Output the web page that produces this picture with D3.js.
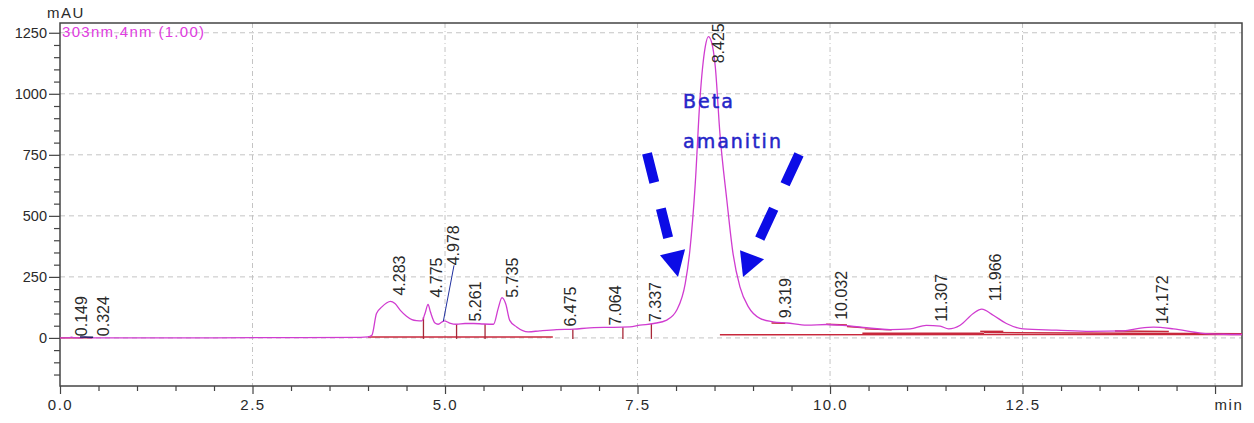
<!DOCTYPE html>
<html><head><meta charset="utf-8">
<script src="https://cdn.jsdelivr.net/npm/d3@7"></script>
<style>html,body{margin:0;padding:0;background:#fff;} svg{display:block;}</style>
</head><body>
<svg id="c" width="1254" height="423"></svg>
<script>
// ---------- DATA ----------
const times = [0.0,0.10,0.15,0.20,0.30,0.324,0.40,1.0,2.0,3.0,3.9,4.00,4.05,4.11,4.18,4.24,4.29,4.35,4.42,4.50,4.57,4.63,4.70,4.74,4.78,4.81,4.87,4.91,4.99,5.06,5.15,5.26,5.37,5.50,5.63,5.69,5.74,5.79,5.84,5.93,6.08,6.23,6.45,6.67,6.88,7.06,7.19,7.40,7.53,7.71,7.88,8.01,8.12,8.18,8.25,8.31,8.38,8.42,8.46,8.51,8.57,8.66,8.74,8.83,8.94,9.09,9.26,9.44,9.70,9.96,10.13,10.43,10.78,11.04,11.25,11.43,11.54,11.69,11.86,11.97,12.12,12.29,12.51,12.94,13.38,13.81,14.03,14.20,14.46,14.81,15.11,15.35];
const signal = [0,0,3,0,1,3,0,0,0.5,1,2,4,11,100,127,143,150,141,113,89,75,71,70,100,137,107,61,56,70,61,56,59,59,57,56,120,165,138,72,45,25,29,34,36,41,43,43,45,52,59,73,114,223,359,633,974,1193,1234,1213,1111,838,564,346,209,127,80,66,61,52,55,52,43,34,37,51,48,37,52,100,118,93,59,37,32,27,29,40,44,37,20,15,14];

const peakTimes  = [0.149,0.324,4.283,4.775,4.978,5.261,5.735,6.475,7.064,7.337,8.425,9.319,10.032,11.307,11.966,14.172];
const peakLabels = ["0.149","0.324","4.283","4.775","4.978","5.261","5.735","6.475","7.064","7.337","8.425","9.319","10.032","11.307","11.966","14.172"];

const dropTimes = [4.72,5.15,5.52,6.66,7.31,7.68];
// integration baselines [t1, v1, t2, v2]
const baselineSegs = [[0.0,0,0.42,0],[4.0,4,6.40,4],[8.57,13,15.35,14],[10.42,19,12.0,19],[12.0,22,15.35,17],[9.24,61,9.42,60],[9.95,56,10.22,53],[10.22,47,10.45,41],[10.45,37,10.80,33],[11.95,27,12.25,27],[13.7,28,14.4,26]];

const yTicks = [0,250,500,750,1000,1250];
const yLabels = ["0","250","500","750","1000","1250"];
const xTicks = [0,2.5,5,7.5,10,12.5,15];
const xTickLabels = ["0.0","2.5","5.0","7.5","10.0","12.5","min"];
const yAxisTitle = "mAU";
const legendText = "303nm,4nm (1.00)";
const annotationLines = ["Beta","amanitin"];

// ---------- LAYOUT ----------
const W = 1254, H = 423;
const L = 60, R = 1242, T = 23, B = 386;
const svg = d3.select("#c");
const x = d3.scaleLinear().domain([0,15.35]).range([L,R]);
const y = d3.scaleLinear().domain([-197,1290]).range([B,T]);

const bis = d3.bisector(d=>d).left;
function trace(t){
  let i = bis(times,t);
  if(i<=0) return signal[0];
  if(i>=times.length) return signal[signal.length-1];
  const t0=times[i-1], t1=times[i];
  return signal[i-1] + (signal[i]-signal[i-1])*(t-t0)/(t1-t0);
}

// gridlines
const grid = svg.append("g");
grid.selectAll("line.gy").data(yTicks).join("line")
  .attr("x1",L).attr("x2",R).attr("y1",d=>y(d)).attr("y2",d=>y(d))
  .attr("stroke","#c4c4c4").attr("stroke-width",1).attr("stroke-dasharray","5,4");
grid.selectAll("line.gx").data(xTicks.slice(1)).join("line")
  .attr("x1",d=>x(d)).attr("x2",d=>x(d)).attr("y1",T).attr("y2",B)
  .attr("stroke","#c4c4c4").attr("stroke-width",1).attr("stroke-dasharray","5,3,1,3");

// frame
svg.append("rect").attr("x",L).attr("y",T).attr("width",R-L).attr("height",B-T)
  .attr("fill","none").attr("stroke","#444").attr("stroke-width",1.5);

// Y axis
const yAxis = svg.append("g").attr("transform",`translate(${L},0)`)
  .call(d3.axisLeft(y).tickValues(yTicks).tickFormat((d,i)=>yLabels[i]).tickSize(11).tickPadding(2));
yAxis.select(".domain").remove();
yAxis.selectAll(".tick line").attr("stroke","#444").attr("stroke-width",1.2);
yAxis.selectAll("text").attr("font-family","Liberation Sans, Arial, sans-serif").attr("font-size",14.5).attr("fill","#2a2a2a");
svg.append("g").attr("transform",`translate(${L},0)`)
  .call(d3.axisLeft(y).tickValues(d3.range(-150,1290,50).filter(v=>v%250!==0)).tickFormat("").tickSize(6))
  .call(g=>g.select(".domain").remove())
  .selectAll(".tick line").attr("stroke","#444").attr("stroke-width",1.2);

// X axis
const xAxis = svg.append("g").attr("transform",`translate(0,${B})`)
  .call(d3.axisBottom(x).tickValues(xTicks).tickFormat((d,i)=>xTickLabels[i]).tickSize(8).tickPadding(5));
xAxis.select(".domain").remove();
xAxis.selectAll(".tick line").attr("stroke","#444").attr("stroke-width",1.2);
xAxis.selectAll("text").attr("font-family","Liberation Sans, Arial, sans-serif").attr("font-size",15)
  .attr("letter-spacing","1.5px").attr("fill","#2a2a2a");
xAxis.selectAll(".tick").filter((d,i)=>i===xTicks.length-1).select("text").attr("text-anchor","start").attr("dx",-1);
svg.append("g").attr("transform",`translate(0,${B})`)
  .call(d3.axisBottom(x).tickValues(d3.range(0,15.01,0.5).filter(v=>v%2.5!==0)).tickFormat("").tickSize(5))
  .call(g=>g.select(".domain").remove())
  .selectAll(".tick line").attr("stroke","#444").attr("stroke-width",1.2);

// axis title + legend
svg.append("text").attr("x",47).attr("y",18).text(yAxisTitle)
  .attr("font-family","Liberation Sans, Arial, sans-serif").attr("font-size",15).attr("letter-spacing","1.5px").attr("fill","#2a2a2a");
svg.append("text").attr("x",62).attr("y",37).text(legendText)
  .attr("font-family","Liberation Sans, Arial, sans-serif").attr("font-size",15).attr("letter-spacing","1.3px").attr("fill","#e03ce0");

// baselines
svg.append("g").selectAll("line").data(baselineSegs).join("line")
  .attr("x1",d=>x(d[0])).attr("y1",d=>y(d[1])).attr("x2",d=>x(d[2])).attr("y2",d=>y(d[3]))
  .attr("stroke","#c8283c").attr("stroke-width",1.4);

// drop lines
svg.append("g").selectAll("line").data(dropTimes).join("line")
  .attr("x1",d=>x(d)).attr("x2",d=>x(d)).attr("y1",d=>y(0)+1).attr("y2",d=>y(trace(d)))
  .attr("stroke","#a82838").attr("stroke-width",1.3);

// trace
svg.append("path").datum(times.map((t,i)=>[t,signal[i]]))
  .attr("d",d3.line().x(d=>x(d[0])).y(d=>y(d[1])).curve(d3.curveMonotoneX))
  .attr("fill","none").attr("stroke","#d03cd0").attr("stroke-width",1.3);

// small dark segment near start
svg.append("line").attr("x1",x(0.26)).attr("y1",y(4)).attr("x2",x(0.43)).attr("y2",y(3))
  .attr("stroke","#202060").attr("stroke-width",1.5);

// peak labels (layout nudges: [dx px, lift px])
const nudge = [[10,1],[18.5,1],[9.5,6],[9,8],[9.7,56],[10,2],[10.7,1],[11.4,3],[11,2],[30,5],[9.6,-26],[7.4,4],[9.2,5],[11,4],[13.6,8],[10.5,3]];
// leader line for 4.978
svg.append("line").attr("x1",x(4.978)).attr("y1",y(trace(4.978)))
  .attr("x2",x(4.978)+nudge[4][0]+1).attr("y2",y(trace(4.978))-nudge[4][1])
  .attr("stroke","#2030a0").attr("stroke-width",1);
svg.append("g").selectAll("text").data(peakTimes).join("text")
  .attr("transform",(d,i)=>`translate(${x(d)+nudge[i][0]},${y(trace(d))-nudge[i][1]}) rotate(-90)`)
  .attr("dy","0.36em").attr("text-anchor","start")
  .attr("font-family","Liberation Sans, Arial, sans-serif").attr("font-size",16).attr("fill","#2a2a2a")
  .text((d,i)=>peakLabels[i]);

// annotation
const annot = svg.append("g");
const txtPos = [[8.091,941],[8.091,777]];
annot.selectAll("text").data(annotationLines).join("text")
  .attr("x",(d,i)=>x(txtPos[i][0])).attr("y",(d,i)=>y(txtPos[i][1]))
  .attr("font-family","DejaVu Sans, Verdana, sans-serif").attr("font-size",19).attr("letter-spacing","2px")
  .attr("fill","#2626c8").attr("stroke","#2626c8").attr("stroke-width",0.5).text(d=>d);
const arrowShafts = [[[7.623,756],[7.922,380]],[[9.597,752],[9.078,400]]];
const arrowHeads = [[[7.792,339],[8.117,363],[8.026,249]],[[8.831,359],[9.143,322],[8.870,249]]];
annot.selectAll("path.shaft").data(arrowShafts).join("path")
  .attr("d",d=>d3.line().x(p=>x(p[0])).y(p=>y(p[1]))(d))
  .attr("stroke","#0c0ce6").attr("stroke-width",10).attr("fill","none")
  .attr("stroke-dasharray",(d,i)=>i===0?"30,27":"33,27");
annot.selectAll("path.head").data(arrowHeads).join("path")
  .attr("d",d=>d3.line().x(p=>x(p[0])).y(p=>y(p[1]))(d)+"Z")
  .attr("fill","#0c0ce6");
</script>
</body></html>
